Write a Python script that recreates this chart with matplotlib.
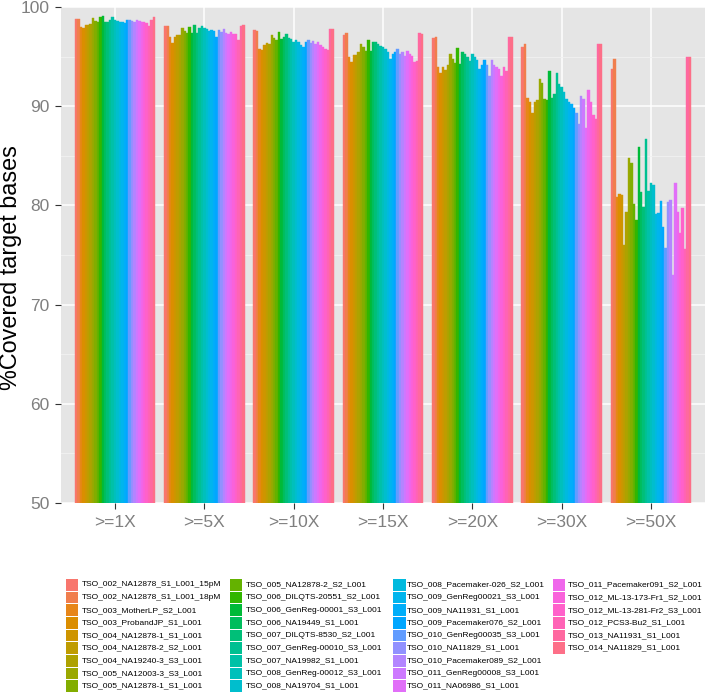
import numpy as np
from matplotlib import pyplot as plt
from matplotlib.patches import Rectangle

plt.rcParams['font.family'] = ['Liberation Sans', 'DejaVu Sans']

groups = ['>=1X', '>=5X', '>=10X', '>=15X', '>=20X', '>=30X', '>=50X']

samples = [
    'TSO_002_NA12878_S1_L001_15pM', 'TSO_002_NA12878_S1_L001_18pM',
    'TSO_003_MotherLP_S2_L001', 'TSO_003_ProbandJP_S1_L001',
    'TSO_004_NA12878-1_S1_L001', 'TSO_004_NA12878-2_S2_L001',
    'TSO_004_NA19240-3_S3_L001', 'TSO_005_NA12003-3_S3_L001',
    'TSO_005_NA12878-1_S1_L001', 'TSO_005_NA12878-2_S2_L001',
    'TSO_006_DILQTS-20551_S2_L001', 'TSO_006_GenReg-00001_S3_L001',
    'TSO_006_NA19449_S1_L001', 'TSO_007_DILQTS-8530_S2_L001',
    'TSO_007_GenReg-00010_S3_L001', 'TSO_007_NA19982_S1_L001',
    'TSO_008_GenReg-00012_S3_L001', 'TSO_008_NA19704_S1_L001',
    'TSO_008_Pacemaker-026_S2_L001', 'TSO_009_GenReg00021_S3_L001',
    'TSO_009_NA11931_S1_L001', 'TSO_009_Pacemaker076_S2_L001',
    'TSO_010_GenReg00035_S3_L001', 'TSO_010_NA11829_S1_L001',
    'TSO_010_Pacemaker089_S2_L001', 'TSO_011_GenReg00008_S3_L001',
    'TSO_011_NA06986_S1_L001', 'TSO_011_Pacemaker091_S2_L001',
    'TSO_012_ML-13-173-Fr1_S2_L001', 'TSO_012_ML-13-281-Fr2_S3_L001',
    'TSO_012_PCS3-Bu2_S1_L001', 'TSO_013_NA11931_S1_L001',
    'TSO_014_NA11829_S1_L001',
]

# % covered target bases, one value per sample (same order as samples)
cov_1x = [98.8, 98.8, 98.0, 97.85, 98.2, 98.2, 98.3, 98.9, 98.6, 98.5, 99.0,
          99.05, 98.5, 98.5, 98.7, 99.0, 98.7, 98.6, 98.5, 98.5, 98.4, 98.7,
          98.7, 98.6, 98.5, 98.7, 98.6, 98.5, 98.5, 98.35, 98.1, 98.7, 99.0]
cov_5x = [98.1, 98.1, 97.0, 96.4, 97.0, 97.2, 97.2, 97.9, 97.6, 97.4, 98.0,
          97.4, 98.2, 97.4, 97.9, 98.1, 97.9, 97.8, 97.6, 97.7, 97.6, 97.0,
          97.7, 97.5, 97.8, 97.4, 97.3, 97.5, 97.3, 97.3, 96.7, 98.1, 98.2]
cov_10x = [97.7, 97.6, 95.8, 95.7, 96.2, 96.4, 96.3, 97.2, 96.9, 96.7, 97.5,
           96.8, 97.0, 97.3, 96.9, 96.8, 96.5, 96.7, 96.5, 96.2, 96.0, 96.5,
           96.7, 96.4, 96.6, 96.3, 96.5, 96.2, 96.0, 95.8, 95.7, 97.8, 97.8]
cov_15x = [97.2, 97.35, 95.0, 94.5, 95.2, 95.2, 95.5, 96.3, 96.0, 95.6, 96.7,
           95.6, 96.5, 96.5, 96.3, 96.1, 96.0, 95.8, 95.5, 94.8, 95.3, 95.5,
           95.8, 95.3, 95.5, 95.1, 95.6, 95.3, 95.1, 94.5, 94.6, 97.35, 97.3]
cov_20x = [96.9, 97.0, 94.0, 93.3, 94.0, 93.6, 94.2, 95.3, 94.8, 94.4, 95.9,
           94.3, 95.5, 95.3, 95.0, 94.6, 95.3, 95.0, 94.7, 93.7, 94.2, 94.7,
           94.2, 93.0, 94.7, 94.2, 94.0, 93.8, 93.0, 94.0, 93.5, 97.0, 97.0]
cov_30x = [96.0, 96.3, 90.8, 90.4, 89.3, 90.4, 90.6, 92.7, 92.3, 90.7, 90.6,
           93.5, 90.8, 91.2, 93.3, 92.2, 91.9, 91.4, 90.7, 90.4, 90.2, 89.8,
           89.3, 88.2, 91.0, 90.7, 87.8, 91.6, 90.4, 89.1, 88.7, 96.3, 96.3]
cov_50x = [93.8, 94.8, 80.8, 81.1, 81.05, 76.0, 79.3, 84.8, 84.3, 80.1, 78.5,
           85.9, 81.4, 79.8, 86.7, 81.5, 82.3, 82.1, 79.1, 79.2, 80.4, 77.8,
           75.7, 80.3, 80.5, 73.0, 82.3, 79.3, 77.2, 79.7, 75.6, 95.0, 95.0]


def hcl_to_hex(h, c=100.0, l=65.0):
    # polar LUV -> sRGB, like R's hcl()
    xn, yn, zn = 95.047, 100.0, 108.883
    un = 4 * xn / (xn + 15 * yn + 3 * zn)
    vn = 9 * yn / (xn + 15 * yn + 3 * zn)
    u = c * np.cos(np.radians(h))
    v = c * np.sin(np.radians(h))
    y = yn * ((l + 16) / 116) ** 3
    up = u / (13 * l) + un
    vp = v / (13 * l) + vn
    x = y * 9 * up / (4 * vp)
    z = y * (12 - 3 * up - 20 * vp) / (4 * vp)
    xyz = np.array([x, y, z]) / 100
    m = np.array([[3.240479, -1.537150, -0.498535],
                  [-0.969256, 1.875992, 0.041556],
                  [0.055648, -0.204043, 1.057311]])
    rgb = m.dot(xyz)
    rgb = np.where(rgb <= 0.0031308, 12.92 * rgb, 1.055 * np.abs(rgb) ** (1 / 2.4) - 0.055)
    rgb = np.clip(rgb, 0, 1)
    return '#%02x%02x%02x' % tuple(int(round(k * 255)) for k in rgb)


n = len(samples)
hues = np.linspace(15, 375, n + 1)[:-1]
colors = [hcl_to_hex(h) for h in hues]

data = np.array([cov_1x, cov_5x, cov_10x, cov_15x, cov_20x, cov_30x, cov_50x])

W, H = 708, 693
fig = plt.figure(figsize=(W / 100, H / 100), dpi=100)
left, right, top, bottom = 61.4, 704.6, 7, 503
ax = fig.add_axes([left / W, 1 - bottom / H, (right - left) / W, (bottom - top) / H])
ax.set_facecolor('#E5E5E5')
for s in ax.spines.values():
    s.set_visible(False)

x = np.arange(len(groups))
bw = 0.9 / n
for i in range(n):
    ax.bar(x - 0.45 + (i + 0.5) * bw, data[:, i], width=bw, bottom=0,
           color=colors[i], edgecolor=colors[i], linewidth=0.3, zorder=3)

ax.set_xlim(-0.6, len(groups) - 0.4)
ax.set_ylim(50, 100)
ax.set_yticks([50, 60, 70, 80, 90, 100])
ax.set_yticks([55, 65, 75, 85, 95], minor=True)
ax.set_xticks(x)
ax.set_xticklabels(groups)
ax.grid(which='major', color='white', linewidth=1.1, zorder=1)
ax.grid(which='minor', axis='y', color='#F2F2F2', linewidth=0.6, zorder=1)
ax.tick_params(which='major', length=4.5, width=0.8, color='#333333',
               labelcolor='#7F7F7F', labelsize=12.5, pad=4)
ax.tick_params(which='minor', length=0)

fig.text(11 / W, 1 - 268 / H, '%Covered target bases', rotation=90,
         ha='center', va='center', fontsize=16.8)

# legend below the panel, 4 columns of 9 rows, filled column by column
key_x = [66, 229.5, 393.3, 552.7]
text_x = [81.7, 246, 406.7, 568.3]
row0, dy = 585, 12.65
for k, (name, col) in enumerate(zip(samples, colors)):
    c, r = divmod(k, 9)
    yc = row0 + r * dy
    fig.add_artist(Rectangle((key_x[c] / W, 1 - (yc + 5.8) / H), 12.3 / W, 11.6 / H,
                             facecolor=col, edgecolor='none', transform=fig.transFigure))
    fig.text(text_x[c] / W, 1 - yc / H, name, ha='left', va='center', fontsize=6.05)

fig.savefig('out.png', dpi=100)
